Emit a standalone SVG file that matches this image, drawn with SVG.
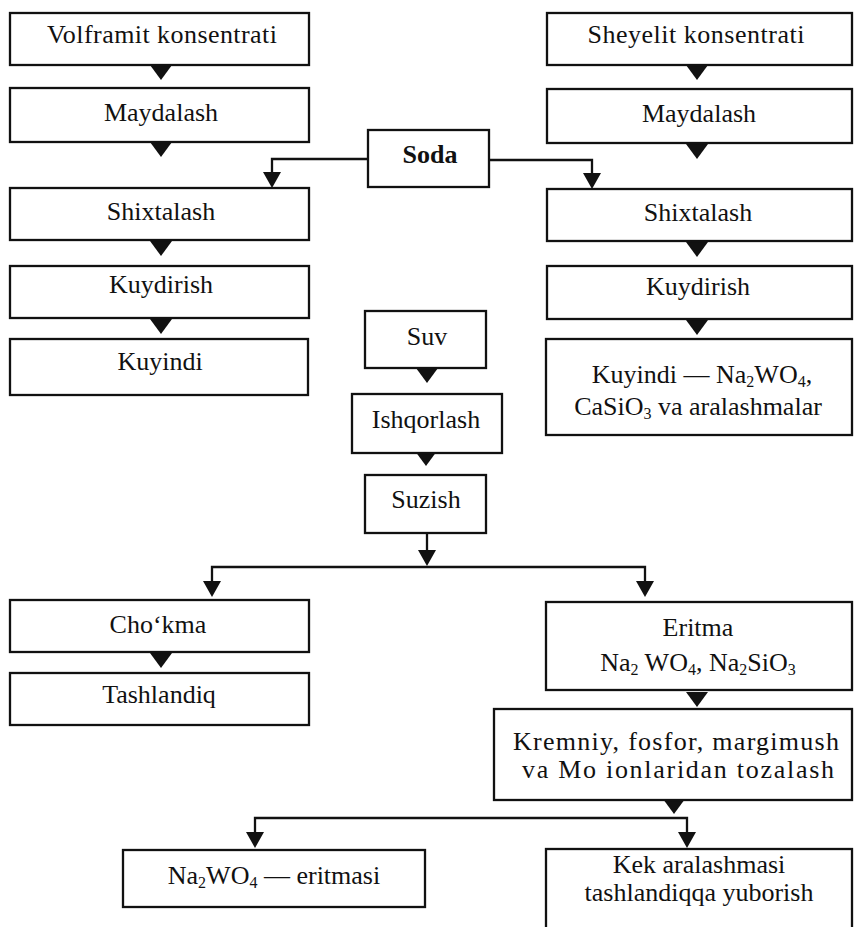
<svg xmlns="http://www.w3.org/2000/svg" xmlns:xlink="http://www.w3.org/1999/xlink" width="854" height="927" viewBox="0 0 854 927">
<style>
.box{fill:#fff;stroke:#111;stroke-width:2.3}
.t{font-family:"Liberation Serif","Times New Roman",serif;font-size:26px;fill:#111;text-anchor:middle}
.b{font-weight:bold}
.sub{font-size:16px}
.ln{fill:none;stroke:#111;stroke-width:2.3}
.ah{fill:#111}
</style>
<defs>
<path id="tri" d="M-11,-15 L11,-15 L0,0 Z"/>
<path id="tri2" d="M-9,-16 L9,-16 L0,0 Z"/>
</defs>
<rect width="854" height="927" fill="#fff"/>

<g id="connectors">
<g class="ah">
<use href="#tri" x="161" y="80"/>
<use href="#tri" x="161" y="157"/>
<use href="#tri" x="161" y="256"/>
<use href="#tri" x="161" y="334"/>
<use href="#tri" x="697" y="80"/>
<use href="#tri" x="697" y="159"/>
<use href="#tri" x="697" y="257"/>
<use href="#tri" x="697" y="335"/>
<use href="#tri" x="427" y="383"/>
<use href="#tri" x="426" y="466"/>
<use href="#tri" x="161" y="668"/>
<use href="#tri" x="697" y="707"/>
<use href="#tri" x="674" y="814"/>
<use href="#tri2" x="272" y="188"/>
<use href="#tri2" x="592" y="189"/>
<use href="#tri2" x="427" y="566"/>
<use href="#tri2" x="212" y="597"/>
<use href="#tri2" x="645" y="597"/>
<use href="#tri2" x="255" y="848"/>
<use href="#tri2" x="687" y="848"/>
</g>
<path class="ln" d="M368,159 H272 V175"/>
<path class="ln" d="M489,160 H592 V176"/>
<path class="ln" d="M427,533 V553"/>
<path class="ln" d="M212,583 V567 H645 V583"/>
<path class="ln" d="M255,834 V818 H687 V834"/>
</g>

<g id="n-volframit"><rect class="box" x="10" y="13" width="299" height="52"/><text class="t" x="162" y="43" textLength="230" lengthAdjust="spacing">Volframit konsentrati</text></g>
<g id="n-maydalash-l"><rect class="box" x="10" y="88" width="299" height="54"/><text class="t" x="161" y="121">Maydalash</text></g>
<g id="n-shixtalash-l"><rect class="box" x="10" y="188" width="299" height="52"/><text class="t" x="161" y="220">Shixtalash</text></g>
<g id="n-kuydirish-l"><rect class="box" x="10" y="266" width="299" height="52"/><text class="t" x="161" y="293">Kuydirish</text></g>
<g id="n-kuyindi-l"><rect class="box" x="10" y="339" width="298" height="56"/><text class="t" x="160" y="370">Kuyindi</text></g>

<g id="n-sheyelit"><rect class="box" x="547" y="13" width="305" height="52"/><text class="t" x="696" y="43" textLength="217" lengthAdjust="spacing">Sheyelit konsentrati</text></g>
<g id="n-maydalash-r"><rect class="box" x="547" y="89" width="305" height="54"/><text class="t" x="699" y="122">Maydalash</text></g>
<g id="n-shixtalash-r"><rect class="box" x="547" y="189" width="305" height="52"/><text class="t" x="698" y="221">Shixtalash</text></g>
<g id="n-kuydirish-r"><rect class="box" x="547" y="266" width="305" height="53"/><text class="t" x="698" y="295">Kuydirish</text></g>
<g id="n-kuyindi-r"><rect class="box" x="546" y="339" width="306" height="96"/>
<text class="t" x="702" y="383">Kuyindi — Na<tspan class="sub" dy="4">2</tspan><tspan dy="-4">WO</tspan><tspan class="sub" dy="4">4</tspan><tspan dy="-4">,</tspan></text>
<text class="t" x="698" y="415">CaSiO<tspan class="sub" dy="4">3</tspan><tspan dy="-4"> va aralashmalar</tspan></text></g>

<g id="n-soda"><rect class="box" x="368" y="130" width="121" height="57"/><text class="t b" x="430" y="163">Soda</text></g>
<g id="n-suv"><rect class="box" x="365" y="311" width="121" height="57"/><text class="t" x="427" y="345">Suv</text></g>
<g id="n-ishqorlash"><rect class="box" x="352" y="394" width="150" height="59"/><text class="t" x="426" y="428">Ishqorlash</text></g>
<g id="n-suzish"><rect class="box" x="365" y="475" width="121" height="58"/><text class="t" x="426" y="508">Suzish</text></g>

<g id="n-chokma"><rect class="box" x="10" y="600" width="299" height="52"/><text class="t" x="158" y="633">Cho‘kma</text></g>
<g id="n-tashlandiq"><rect class="box" x="10" y="673" width="299" height="52"/><text class="t" x="159" y="703">Tashlandiq</text></g>

<g id="n-eritma"><rect class="box" x="546" y="602" width="306" height="88"/>
<text class="t" x="698" y="636">Eritma</text>
<text class="t" x="698" y="671">Na<tspan class="sub" dy="4">2</tspan><tspan dy="-4"> WO</tspan><tspan class="sub" dy="4">4</tspan><tspan dy="-4">,  Na</tspan><tspan class="sub" dy="4">2</tspan><tspan dy="-4">SiO</tspan><tspan class="sub" dy="4">3</tspan></text></g>

<g id="n-kremniy"><rect class="box" x="494" y="709" width="358" height="91"/>
<text class="t" x="676" y="750" textLength="326" lengthAdjust="spacing">Kremniy, fosfor, margimush</text>
<text class="t" x="678" y="778" textLength="312" lengthAdjust="spacing">va Mo ionlaridan tozalash</text></g>

<g id="n-na2wo4"><rect class="box" x="123" y="850" width="302" height="57"/>
<text class="t" x="274" y="884">Na<tspan class="sub" dy="4">2</tspan><tspan dy="-4">WO</tspan><tspan class="sub" dy="4">4</tspan><tspan dy="-4"> — eritmasi</tspan></text></g>

<g id="n-kek"><rect class="box" x="546" y="849" width="306" height="100"/>
<text class="t" x="699" y="873">Kek aralashmasi</text>
<text class="t" x="699" y="901">tashlandiqqa yuborish</text></g>
</svg>
